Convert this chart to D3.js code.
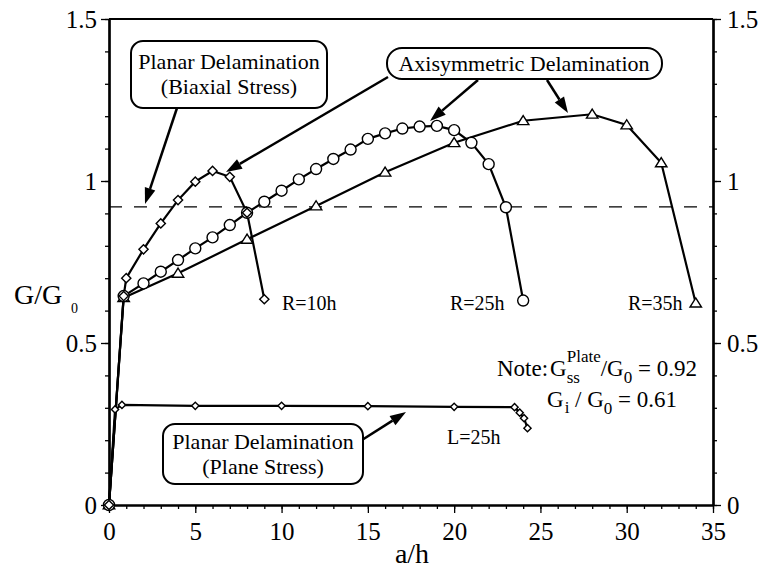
<!DOCTYPE html>
<html>
<head>
<meta charset="utf-8">
<script src="https://cdn.jsdelivr.net/npm/d3@7"></script>
<style>
body { margin: 0; background: #fff; }
text { font-family: "Liberation Serif", "Times New Roman", serif; fill: #000; white-space: pre; }
</style>
</head>
<body>
<div id="chart"></div>
<script>
// values (a/h, G/G0)
var r10X = [0, 0.85, 1, 2, 3, 4, 5, 6, 7, 8, 9]
var r10Y = [0, 0.645, 0.70, 0.789, 0.869, 0.941, 0.998, 1.031, 1.013, 0.902, 0.635]

var r25X = [0, 0.85, 2, 3, 4, 5, 6, 7, 8, 9, 10, 11, 12, 13, 14, 15, 16, 17, 18, 19, 20, 21, 22, 23, 24]
var r25Y = [0, 0.645, 0.684, 0.72, 0.756, 0.792, 0.826, 0.864, 0.902, 0.936, 0.970, 1.005, 1.037, 1.068,
            1.097, 1.13, 1.147, 1.162, 1.168, 1.170, 1.157, 1.118, 1.052, 0.919, 0.631]

var r35X = [0, 0.85, 4, 8, 12, 16, 20, 24, 28, 30, 32, 34]
var r35Y = [0, 0.64, 0.715, 0.82, 0.923, 1.027, 1.118, 1.186, 1.206, 1.173, 1.056, 0.623]

var l25X = [0, 0.35, 0.75, 5, 10, 15, 20, 23.5, 23.8, 24.05, 24.25]
var l25Y = [0, 0.295, 0.309, 0.306, 0.306, 0.305, 0.303, 0.302, 0.285, 0.268, 0.237]

var steadyState = 0.92

var xTicks = [0, 5, 10, 15, 20, 25, 30, 35]
var yTicks = [0, 0.5, 1, 1.5]
var yTickLabels = ["0", "0.5", "1", "1.5"]

var svgWidth = 767
var svgHeight = 575

var svg = d3.select("#chart")
  .append("svg")
  .attr("width", svgWidth)
  .attr("height", svgHeight)

var x = d3.scaleLinear().domain([0, 35]).range([109, 713])
var y = d3.scaleLinear().domain([0, 1.5]).range([505, 19])

function zip(xs, ys) {
  return xs.map((d, i) => ({ x: d, y: ys[i] }))
}

// axes
function styleAxis(g, size) {
  g.selectAll("path.domain").attr("stroke-width", 2.2)
  g.selectAll(".tick line").attr("stroke-width", 1.3)
  g.selectAll("text").attr("font-size", size).attr("font-family", "Liberation Serif").attr("fill", "#000")
}

var bottom = svg.append("g")
  .attr("transform", `translate(0, ${y(0)})`)
  .call(d3.axisBottom(x).tickValues(xTicks).tickSize(8).tickSizeOuter(0).tickPadding(9).tickFormat(d3.format("d")))
styleAxis(bottom, 25)
svg.append("g")
  .attr("transform", `translate(0, ${y(0)})`)
  .call(d3.axisBottom(x).tickValues(d3.range(0, 36, 1)).tickSize(4).tickSizeOuter(0).tickFormat(""))
  .call(g => styleAxis(g, 25))

var left = svg.append("g")
  .attr("transform", `translate(${x(0)}, 0)`)
  .call(d3.axisLeft(y).tickValues(yTicks).tickSize(8).tickSizeOuter(0).tickPadding(4)
    .tickFormat((d, i) => yTickLabels[i]))
styleAxis(left, 25)
svg.append("g")
  .attr("transform", `translate(${x(0)}, 0)`)
  .call(d3.axisLeft(y).tickValues(d3.range(0, 1.51, 0.1)).tickSize(4).tickSizeOuter(0).tickFormat(""))
  .call(g => styleAxis(g, 25))

var right = svg.append("g")
  .attr("transform", `translate(${x(35)}, 0)`)
  .call(d3.axisRight(y).tickValues(yTicks).tickSize(8).tickSizeOuter(0).tickPadding(6)
    .tickFormat((d, i) => yTickLabels[i]))
styleAxis(right, 25)
svg.append("g")
  .attr("transform", `translate(${x(35)}, 0)`)
  .call(d3.axisRight(y).tickValues(d3.range(0, 1.51, 0.1)).tickSize(4).tickSizeOuter(0).tickFormat(""))
  .call(g => styleAxis(g, 25))

svg.append("line")
  .attr("x1", x(0)).attr("x2", x(35))
  .attr("y1", y(1.5)).attr("y2", y(1.5))
  .attr("stroke", "#000").attr("stroke-width", 2)

// axis titles
svg.append("text").attr("x", 412).attr("y", 563).attr("text-anchor", "middle")
  .attr("font-size", 28).text("a/h")
svg.append("text").attr("x", 14).attr("y", 304).attr("font-size", 28).text("G/G")
svg.append("text").attr("x", 71).attr("y", 313).attr("font-size", 14).text("0")

// steady-state dashed line
svg.append("line")
  .attr("x1", x(0)).attr("x2", x(35))
  .attr("y1", y(steadyState)).attr("y2", y(steadyState))
  .attr("stroke", "#000").attr("stroke-width", 1.3)
  .attr("stroke-dasharray", "13,12")

// curves
var line = d3.line().x(d => x(d.x)).y(d => y(d.y))

var diamond = r => `M0,${-r}L${r},0L0,${r}L${-r},0Z`
var triangle = r => `M0,${-r}L${r * 1.1},${r * 0.75}L${-r * 1.1},${r * 0.75}Z`
var circle = r => `M${r},0A${r},${r} 0 1,1 ${-r},0A${r},${r} 0 1,1 ${r},0Z`

var series = [
  { data: zip(l25X, l25Y), shape: diamond(3.6) },
  { data: zip(r35X, r35Y), shape: triangle(5.2) },
  { data: zip(r25X, r25Y), shape: circle(5.5) },
  { data: zip(r10X, r10Y), shape: diamond(4.6) }
]

series.forEach(s => {
  svg.append("path")
    .datum(s.data)
    .attr("d", line)
    .attr("fill", "none")
    .attr("stroke", "#000")
    .attr("stroke-width", 2.2)
})
series.forEach(s => {
  svg.append("g").selectAll("path")
    .data(s.data)
    .enter()
    .append("path")
    .attr("d", s.shape)
    .attr("transform", d => `translate(${x(d.x)}, ${y(d.y)})`)
    .attr("fill", "#fff")
    .attr("stroke", "#000")
    .attr("stroke-width", 1.4)
})

// curve labels
svg.append("text").attr("x", 282).attr("y", 310).attr("font-size", 20).text("R=10h")
svg.append("text").attr("x", 450).attr("y", 310).attr("font-size", 20).text("R=25h")
svg.append("text").attr("x", 628).attr("y", 310).attr("font-size", 20).text("R=35h")
svg.append("text").attr("x", 447).attr("y", 444).attr("font-size", 20).text("L=25h")

// callout boxes
function box(bx, by, bw, bh, r, lines, cx, baselines) {
  svg.append("rect")
    .attr("x", bx).attr("y", by).attr("width", bw).attr("height", bh)
    .attr("rx", r).attr("ry", r)
    .attr("fill", "#fff").attr("stroke", "#000").attr("stroke-width", 2)
  lines.forEach((t, i) => {
    svg.append("text").attr("x", cx).attr("y", baselines[i])
      .attr("text-anchor", "middle").attr("font-size", 22).text(t)
  })
}

function arrow(x1, y1, x2, y2) {
  var a = Math.atan2(y2 - y1, x2 - x1)
  var len = 16, half = 5.5
  var bx = x2 - len * Math.cos(a), by = y2 - len * Math.sin(a)
  svg.append("line")
    .attr("x1", x1).attr("y1", y1).attr("x2", bx).attr("y2", by)
    .attr("stroke", "#000").attr("stroke-width", 2.5)
  svg.append("path")
    .attr("d", `M${x2},${y2}L${bx + half * Math.sin(a)},${by - half * Math.cos(a)}L${bx - half * Math.sin(a)},${by + half * Math.cos(a)}Z`)
    .attr("fill", "#000")
}

arrow(177, 108, 145, 204)
arrow(388, 77, 226, 172)
arrow(478, 80, 430, 121)
arrow(547, 80, 568, 113)
arrow(362, 440, 406, 412)

box(131, 41, 196, 67, 12, ["Planar Delamination", "(Biaxial Stress)"], 229, [69, 94])
box(387, 48, 275, 31, 15, ["Axisymmetric Delamination"], 524, [71])
box(163, 424, 200, 60, 12, ["Planar Delamination", "(Plane Stress)"], 263, [449, 474])

// note
function piece(t, px, py, size) {
  var n = svg.append("text").attr("x", px).attr("y", py).attr("font-size", size).text(t)
  return px + n.node().getComputedTextLength()
}

var cx = piece("Note:", 497, 376, 23)
cx = piece("G", cx + 2, 376, 23)
var e1 = piece("Plate", cx, 362, 17)
var e2 = piece("ss", cx, 383, 17)
cx = piece("/G", Math.max(e1, e2), 376, 23)
cx = piece("0", cx, 383, 17)
piece(" = 0.92", cx, 376, 23)

cx = piece("G", 547, 407, 23)
cx = piece("i", cx + 1, 413, 17)
cx = piece(" / G", cx, 407, 23)
cx = piece("0", cx, 414, 17)
piece(" = 0.61", cx, 407, 23)
</script>
</body>
</html>
